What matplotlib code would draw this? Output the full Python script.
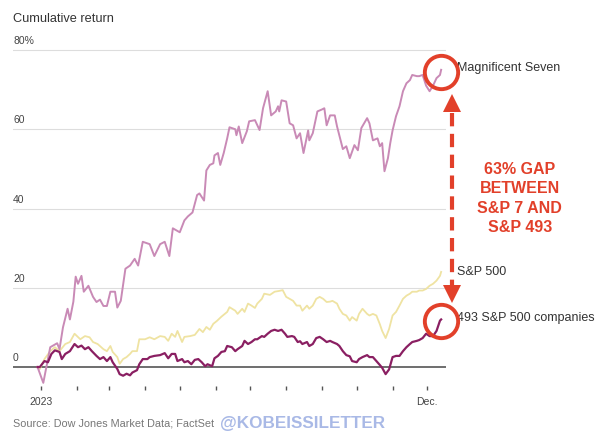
"""
Cumulative return 2023: Magnificent Seven vs S&P 500 vs the other 493.
Values read off the published chart (days counted from Jan 1, 2023).
"""

import matplotlib
matplotlib.use("Agg")
import matplotlib.pyplot as plt

plt.rcParams['font.family'] = ['Liberation Sans', 'DejaVu Sans']

# Magnificent Seven
mag7_days = [-3, 2, 8, 14, 16, 19, 23, 25, 28, 30, 32, 35, 37, 41, 45, 48, 51, 54, 57, 60,
             64, 66, 69, 73, 77, 81, 84, 88, 94, 98, 103, 107, 111, 114, 120, 124, 127, 131,
             135, 137, 141, 143, 146, 149, 150, 153, 155, 158, 161, 163, 168, 169, 171, 174,
             178, 180, 185, 189, 192, 196, 199, 203, 205, 206, 208, 212, 215, 218, 221, 224,
             227, 231, 232, 235, 239, 243, 245, 247, 250, 254, 256, 261, 264, 267, 271, 274,
             277, 282, 284, 287, 291, 293, 295, 297, 300, 302, 304, 307, 310, 313, 316, 319,
             321, 325, 327, 330, 333, 336, 339, 342, 345, 346]
mag7_ret = [0, -4, 5, 6, 4.5, 10, 14.7, 12, 16.5, 22.8, 21, 23, 19, 20.5, 17.7, 16.4, 17, 15.4,
            15.4, 19, 19, 15, 16.7, 24.8, 25.6, 27.3, 25.6, 31.6, 31, 28, 31, 31.6, 28, 35, 34,
            37, 38, 39, 43.4, 43.8, 42, 49.6, 51, 51.4, 53.4, 54, 51, 54, 57.7, 60.5, 60, 58.5,
            60.7, 56.5, 59.5, 62, 62.3, 59.8, 65.3, 69.6, 63.5, 64.5, 65.8, 64.5, 67.3, 67,
            61.5, 61, 57.7, 59, 54, 59.7, 57.2, 59, 64.5, 65, 65.3, 61, 63.5, 63.5, 60.7, 55,
            55.7, 52.7, 56, 54.7, 60.3, 62.8, 61.5, 57.2, 57.7, 55.7, 56.5, 49.4, 52.7, 56.5,
            59.7, 63.3, 65.8, 69.6, 71.6, 72.4, 73.7, 73.4, 73.4, 73.7, 71, 69.6, 71, 72.9,
            73.7, 75]

# S&P 500
sp500_days = [-3, -1, 3, 8, 12, 16, 21, 25, 29, 34, 38, 42, 45, 49, 54, 57, 60, 62, 66, 68,
              71, 74, 77, 79, 83, 85, 90, 94, 98, 103, 107, 110, 113, 116, 118, 122, 124, 129,
              133, 137, 140, 143, 146, 149, 152, 156, 161, 163, 168, 170, 174, 176, 179, 182,
              185, 187, 191, 193, 198, 202, 206, 209, 212, 215, 218, 221, 224, 226, 230, 232,
              235, 238, 241, 244, 247, 250, 252, 256, 258, 261, 264, 267, 269, 273, 275, 278,
              282, 284, 287, 290, 293, 295, 298, 301, 304, 307, 310, 313, 316, 319, 321, 325,
              327, 330, 333, 336, 339, 342, 345, 346]
sp500_ret = [0, -0.5, 2, 4, 5, 4, 5.8, 6.3, 8.4, 7, 7.8, 7.5, 6.3, 5.8, 4.5, 4, 5.3, 3.8, 2.5,
             0.8, 2, 2.5, 3.3, 4, 4, 7, 7, 7.5, 7, 7.8, 7.6, 6.6, 8.4, 7.6, 9.1, 6.3, 7.6, 7.8,
             8.1, 9.6, 8.8, 10.1, 9.4, 10.9, 11.6, 12.7, 13.9, 15.1, 14.2, 13.4, 14.7, 13.9, 16,
             15.5, 14.9, 16, 17.2, 18.5, 18.2, 19, 19.2, 19.4, 17.7, 17.2, 16.7, 15.5, 15.5,
             14.2, 15.5, 14.7, 15.5, 17.2, 17.7, 17.2, 16.4, 16.5, 16.7, 16, 14.7, 13.4, 13,
             11.7, 12.6, 11.7, 13.4, 14.7, 13.4, 13, 13.4, 13, 10.8, 9.1, 7.3, 9.6, 13, 13.9,
             15.5, 17.2, 18, 18.5, 19, 19, 19.3, 19.3, 19.7, 20.5, 21, 21.8, 23, 24]

# the other 493 S&P 500 companies
sp493_days = [-3, -1, 3, 6, 9, 12, 16, 18, 21, 25, 29, 32, 35, 38, 41, 44, 48, 51, 54, 57,
              60, 62, 66, 68, 71, 74, 77, 79, 83, 85, 88, 92, 94, 98, 103, 107, 110, 113, 116,
              118, 122, 124, 127, 130, 133, 136, 139, 142, 144, 148, 150, 153, 156, 159, 161,
              165, 168, 170, 174, 176, 179, 182, 185, 187, 191, 193, 196, 199, 202, 205, 208,
              211, 213, 217, 219, 222, 224, 226, 230, 232, 235, 238, 241, 244, 247, 250, 252,
              256, 258, 261, 264, 267, 269, 273, 275, 278, 282, 284, 287, 290, 293, 295, 298,
              301, 304, 307, 310, 313, 316, 319, 321, 325, 327, 330, 333, 336, 339, 342, 345,
              346]
sp493_ret = [0, 0, 1.5, 1.2, 3.3, 4.2, 3.8, 2, 3.3, 4, 5.8, 5, 5.4, 4.5, 5, 4, 2.8, 2, 2.5,
             1.5, 2.5, 1.2, -0.5, -1.8, -2.2, -1.7, -2.1, -1.4, -0.8, 0.7, 2, 2, 2.5, 2.8, 3,
             3.5, 2.2, 3.3, 3.3, 1.5, 2, 1.2, 1.5, 0.7, 1.8, 2, 1.2, 0.2, 0.7, 0.2, 2.2, 2.8,
             3.8, 4, 5.3, 5, 4, 4.5, 5.3, 6.6, 5.8, 6.3, 7, 7, 7.8, 7.6, 8.4, 9.1, 9.4, 9.1,
             9.4, 8.4, 7.6, 7.8, 7.6, 6.3, 6.5, 5.8, 6.3, 5.3, 5.8, 7.3, 7.6, 7, 6.3, 6.6, 6.3,
             5.8, 5.3, 4, 3, 2.7, 1.5, 1.2, 2, 2.5, 3, 2.5, 2.5, 1.5, 0.5, -0.2, -1.8, -0.6,
             2.5, 2.8, 2.8, 4, 5, 5.8, 6.3, 6.6, 6.8, 7.3, 8.4, 7.8, 7.8, 9.1, 11.7, 12]

month_starts = [0, 31, 59, 90, 120, 151, 181, 212, 243, 273, 304, 334]
month_labels = ['2023', '', '', '', '', '', '', '', '', '', '', 'Dec.']
y_ticks = [0, 20, 40, 60, 80]
y_labels = ['0', '20', '40', '60', '80%']

MAG7_COL = '#c98ab6'
SP500_COL = '#efe3a2'
SP493_COL = '#8a1f62'
RED = '#e2402a'

fig = plt.figure(figsize=(6.02, 4.35), dpi=100)
W, H = 602, 435
# axes box in pixels: left 13, right 446, top 40, bottom 387
ax = fig.add_axes([13 / W, 1 - 387 / H, (446 - 13) / W, (387 - 40) / H])
ax.set_xlim(-24.2, 350.2)
ax.set_ylim((368 - 387) / 3.9625, (368 - 40) / 3.9625)

for s in ax.spines.values():
    s.set_visible(False)

# gridlines and tick labels (labels sit above the line, left aligned)
for v, lab in zip(y_ticks, y_labels):
    if v == 0:
        ax.axhline(0, color='#555555', lw=1.2, zorder=1)
    else:
        ax.axhline(v, color='#dddddd', lw=0.8, zorder=0)
    ax.text(0, v + 1.2, lab, transform=ax.get_yaxis_transform(), ha='left', va='bottom',
            fontsize=7.5, color='#444444')
ax.set_yticks([])

ax.set_xticks(month_starts)
ax.set_xticklabels(month_labels, fontsize=7.5, color='#444444')
ax.tick_params(axis='x', length=3, width=1, color='#555555', pad=4)

ax.plot(sp500_days, sp500_ret, color=SP500_COL, lw=1.3, zorder=2)
ax.plot(mag7_days, mag7_ret, color=MAG7_COL, lw=1.4, zorder=3)
ax.plot(sp493_days, sp493_ret, color=SP493_COL, lw=1.6, zorder=4)

# series labels to the right of the last value
last = mag7_days[-1]
lab_kw = dict(ha='left', va='center', fontsize=9, color='#333333', clip_on=False)
ax.text(last + 14, mag7_ret[-1] + 0.7, 'Magnificent Seven', **lab_kw)
ax.text(last + 14, sp500_ret[-1] + 0.2, 'S&P 500', **lab_kw)
ax.text(last + 14, sp493_ret[-1] + 0.6, '493 S&P 500 companies', **lab_kw)

# red circles around the end points
for y_end in (mag7_ret[-1] - 0.5, sp493_ret[-1] - 0.3):
    ax.plot([last], [y_end], 'o', ms=24, mfc='none', mec=RED, mew=2.8,
            clip_on=False, zorder=5)

# dashed double arrow between the two
xa = last + 9
top, bot = mag7_ret[-1] - 6.6, sp493_ret[-1] + 4.4
ax.plot([xa, xa], [top - 4.2, bot + 4.2], color=RED, lw=3, dashes=(3.2, 1.8),
        clip_on=False, zorder=5)
ax.plot([xa], [top - 1.9], marker='^', ms=13, color=RED, mew=0, clip_on=False, zorder=5)
ax.plot([xa], [bot + 1.9], marker='v', ms=13, color=RED, mew=0, clip_on=False, zorder=5)

ax.text(last + 68, 42.8, '63% GAP\nBETWEEN\nS&P 7 AND\nS&P 493', ha='center', va='center',
        fontsize=11.5, fontweight='bold', color=RED, linespacing=1.38, clip_on=False)

fig.text(13 / W, 1 - 19 / H, 'Cumulative return', ha='left', va='center', fontsize=9.2,
         color='#333333')
fig.text(13 / W, 1 - 424 / H, 'Source: Dow Jones Market Data; FactSet', ha='left',
         va='center', fontsize=7.8, color='#777777')
fig.text(220 / W, 1 - 424 / H, '@KOBEISSILETTER', ha='left', va='center', fontsize=12.3,
         fontweight='bold', color='#a9b9e6')

fig.savefig('out.png', dpi=100)
